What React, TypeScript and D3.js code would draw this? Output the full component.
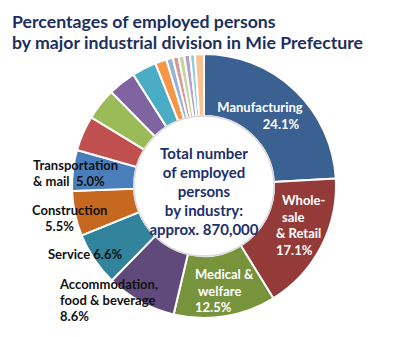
import React from "react";
import * as d3 from "d3";

const categories = [
  "Manufacturing", "Wholesale & Retail", "Medical & welfare", "Accommodation, food & beverage",
  "Service", "Construction", "Transportation & mail", "Other 1", "Other 2", "Other 3", "Other 4",
  "Other 5", "Other 6", "Other 7", "Other 8", "Other 9", "Other 10", "Other 11",
];
const values = [24.1, 17.1, 12.5, 8.6, 6.6, 5.5, 5.0, 4.3, 3.9, 3.4, 3.0, 1.4, 0.8, 0.7, 0.7, 0.7, 0.6, 1.1];
const colors = [
  "#3b6192", "#943b39", "#77933c", "#604a7b", "#31849b", "#c6681f", "#4a7ebb",
  "#c0504d", "#9bbb59", "#8064a2", "#4bacc6", "#f79646", "#95b3d7", "#d99694",
  "#c3d69b", "#b3a2c7", "#93cddd", "#fac090",
];
const titleLines = ["Percentages of employed persons", "by major industrial division in Mie Prefecture"];
const centerLines = ["Total number", "of employed", "persons", "by industry:", "approx. 870,000"];

type Lbl = { lines: string[]; xs: number[]; y: number; fill: string; anchor: string; lh: number };
const labels: Lbl[] = [
  { lines: ["Manufacturing", "24.1%"], xs: [260, 281], y: 112, fill: "#fff", anchor: "middle", lh: 17 },
  { lines: ["Whole-", "sale", "& Retail", "17.1%"], xs: [282, 282, 276, 276], y: 205, fill: "#fff", anchor: "start", lh: 16.5 },
  { lines: ["Medical &", "welfare", "12.5%"], xs: [195, 198, 195], y: 279, fill: "#fff", anchor: "start", lh: 16.5 },
  { lines: ["Accommodation,", "food & beverage", "8.6%"], xs: [60, 60, 60], y: 289, fill: "#111", anchor: "start", lh: 16 },
  { lines: ["Service 6.6%"], xs: [48], y: 259, fill: "#111", anchor: "start", lh: 16 },
  { lines: ["Construction", "5.5%"], xs: [32, 45], y: 215, fill: "#111", anchor: "start", lh: 16 },
  { lines: ["Transportation", "& mail  5.0%"], xs: [33, 33], y: 170, fill: "#111", anchor: "start", lh: 16 },
];

export default function App() {
  const W = 400, H = 337;
  const cx = 204, cy = 186, R = 132, r0 = 70;
  const pie = d3.pie<number>().sort(null).value((d) => d);
  const arcs = pie(values);
  const arc = d3.arc<d3.PieArcDatum<number>>().innerRadius(r0).outerRadius(R);
  const font = "Lato, 'Open Sans', sans-serif";
  return (
    <svg width={W} height={H} style={{ position: "absolute", left: 0, top: 0, background: "#fff" }}>
      {titleLines.map((t, i) => (
        <text key={i} x={12} y={28 + i * 20.5} fontFamily={font} fontWeight={700} fontSize={17.7}
          fill="#1c2f5e">{t}</text>
      ))}
      <g transform={`translate(${cx},${cy})`}>
        {arcs.map((a, i) => (
          <path key={categories[i]} d={arc(a) || ""} fill={colors[i]} stroke="#fff" strokeWidth={2} />
        ))}
        <circle r={r0} fill="#fff" stroke="#d8d8d8" strokeWidth={1.5} />
      </g>
      {centerLines.map((t, i) => (
        <text key={i} x={cx} y={159 + i * 19} textAnchor="middle" fontFamily={font} fontWeight={700}
          fontSize={15} fill="#1c2f6e">{t}</text>
      ))}
      {labels.map((l, i) => (
        <text key={i} fontFamily={font} fontWeight={700} fontSize={13} fill={l.fill} textAnchor={l.anchor}>
          {l.lines.map((s, j) => (
            <tspan key={j} x={l.xs[j]} y={l.y + j * l.lh} style={{ whiteSpace: "pre" }}>{s}</tspan>
          ))}
        </text>
      ))}
    </svg>
  );
}
